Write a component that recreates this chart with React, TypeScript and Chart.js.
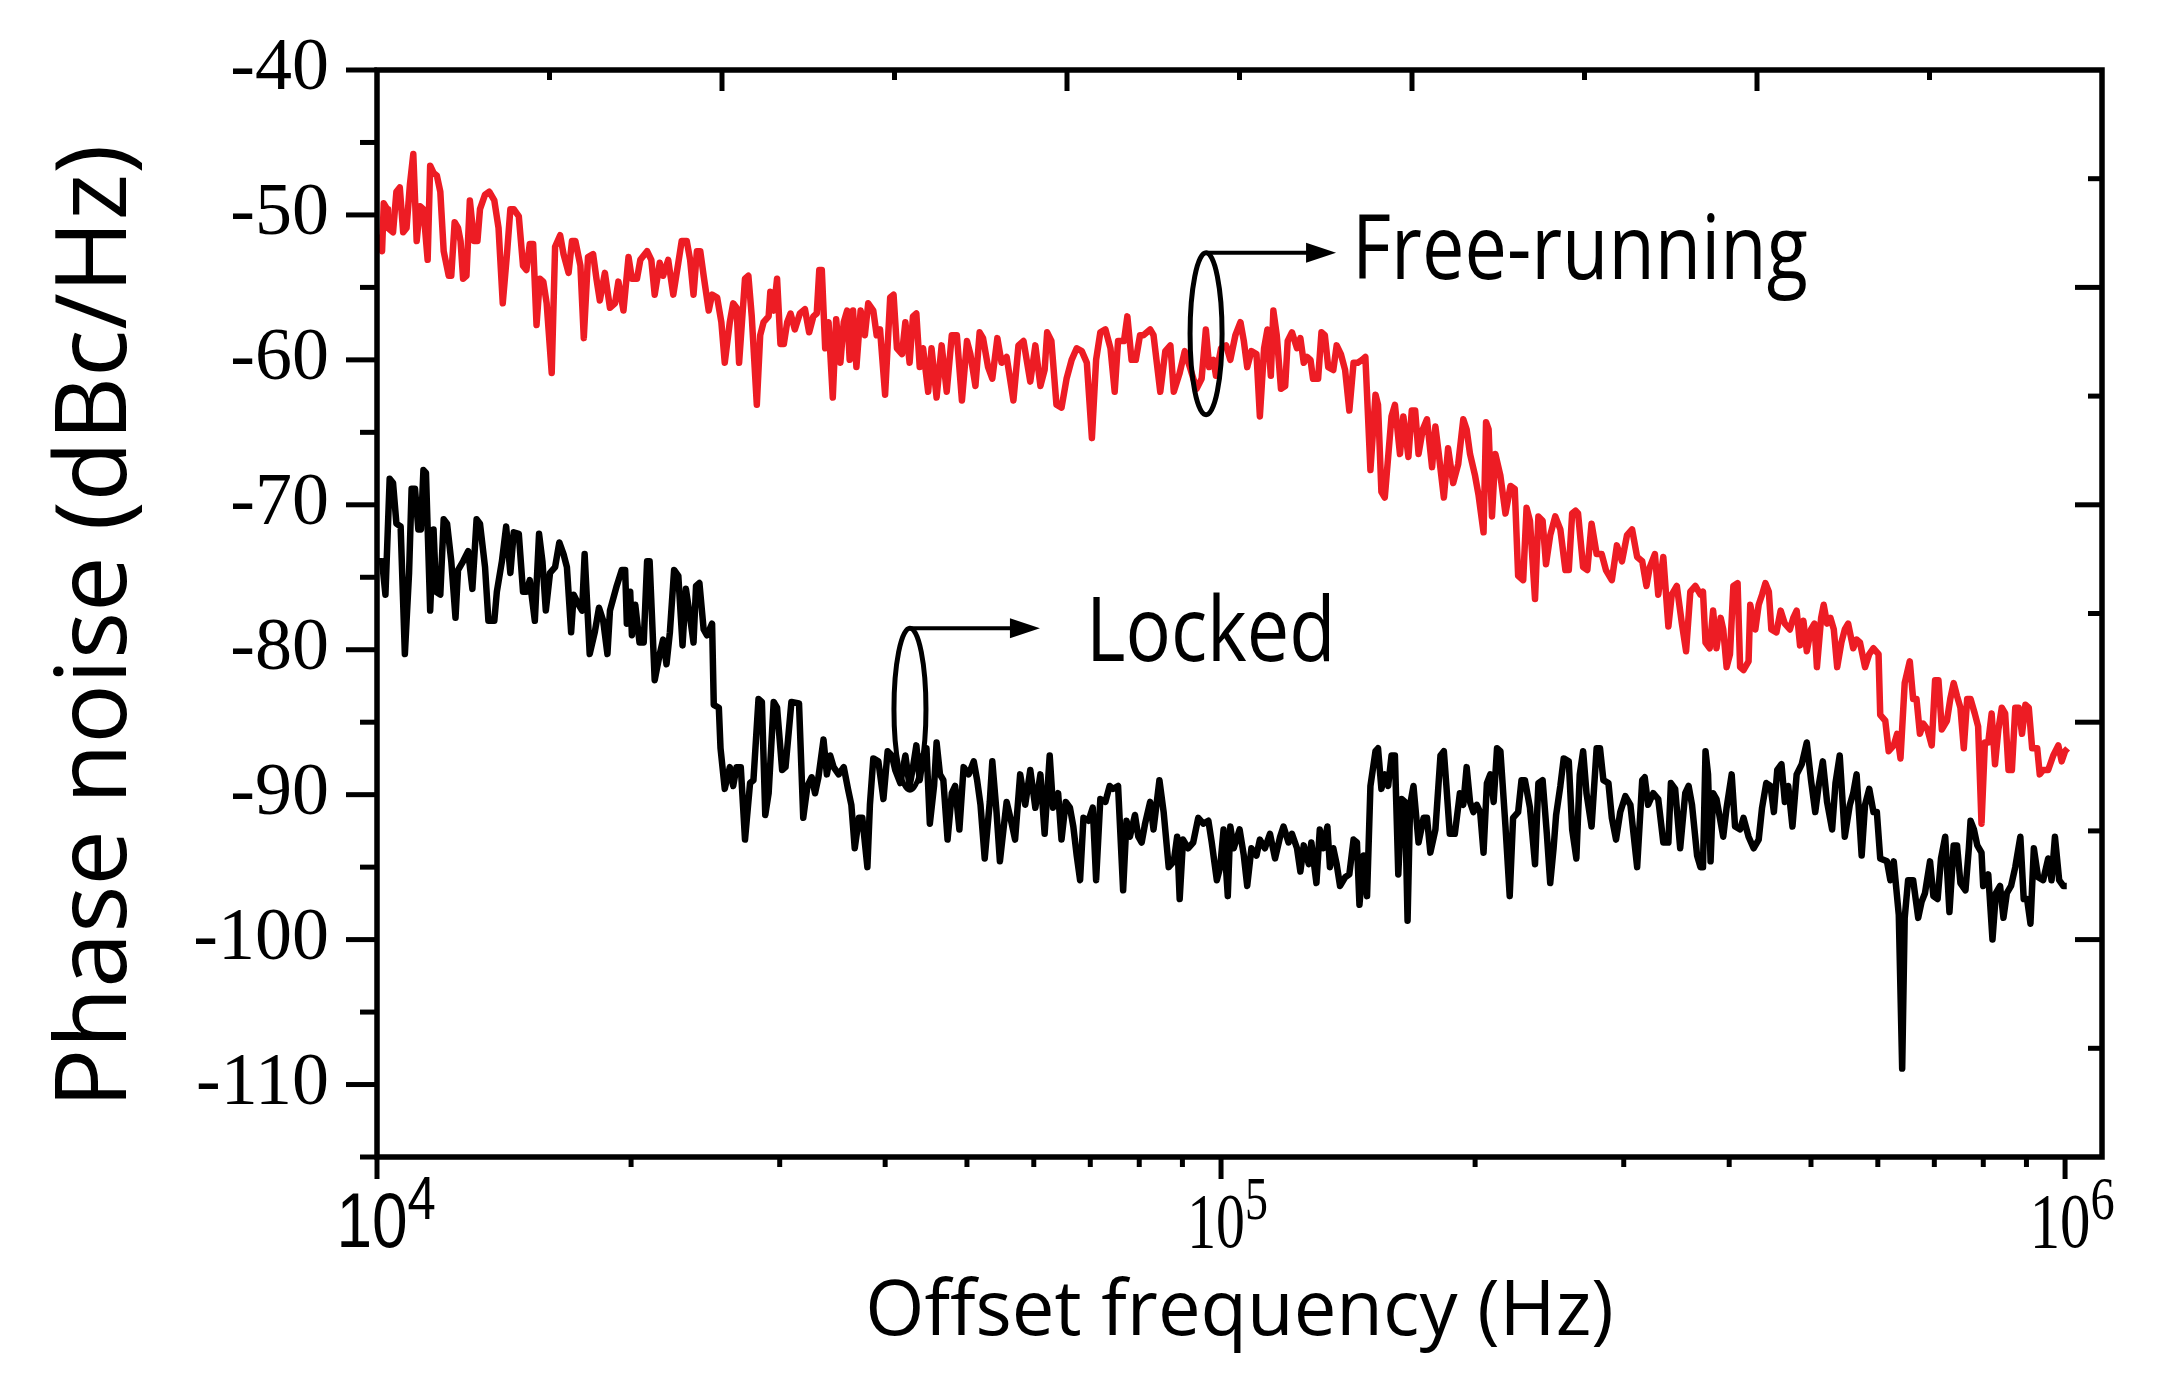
import React, { useEffect, useRef } from 'react';
import { Chart, registerables } from 'chart.js';

Chart.register(...registerables);

// [log10(offset frequency / Hz), phase noise (dBc/Hz)]
const freeRunning: [number, number][] = [
  [4.000, -51.4], [4.006, -52.5], [4.008, -49.2], [4.012, -49.6], [4.013, -50.9], [4.019, -51.2], [4.023, -48.4], [4.027, -48.1],
  [4.031, -51.2], [4.035, -50.9], [4.039, -47.9], [4.043, -45.8], [4.047, -51.8], [4.051, -49.4], [4.055, -49.6], [4.060, -53.1],
  [4.063, -46.6], [4.067, -47.1], [4.071, -47.3], [4.075, -48.4], [4.079, -52.5], [4.085, -54.2], [4.088, -54.2], [4.092, -50.5],
  [4.096, -50.9], [4.099, -51.8], [4.102, -54.4], [4.106, -54.2], [4.110, -49.0], [4.115, -51.8], [4.119, -51.8], [4.122, -49.6],
  [4.128, -48.6], [4.133, -48.4], [4.139, -49.0], [4.144, -50.9], [4.149, -56.1], [4.154, -52.7], [4.158, -49.6], [4.162, -49.6],
  [4.168, -50.1], [4.173, -53.5], [4.177, -53.8], [4.181, -52.0], [4.185, -52.0], [4.189, -57.6], [4.193, -54.4], [4.197, -54.6],
  [4.201, -56.1], [4.207, -60.9], [4.211, -52.2], [4.217, -51.4], [4.221, -52.7], [4.227, -54.0], [4.231, -51.8], [4.235, -51.8],
  [4.241, -53.5], [4.245, -58.5], [4.250, -52.9], [4.256, -52.7], [4.260, -54.4], [4.264, -55.9], [4.270, -54.0], [4.276, -56.4],
  [4.282, -56.1], [4.286, -54.6], [4.292, -56.6], [4.298, -52.9], [4.302, -54.4], [4.308, -54.4], [4.312, -53.1], [4.320, -52.5],
  [4.325, -53.1], [4.329, -55.5], [4.335, -53.3], [4.339, -54.2], [4.345, -53.1], [4.351, -55.5], [4.357, -53.3], [4.361, -51.8],
  [4.367, -51.8], [4.371, -53.1], [4.375, -55.5], [4.379, -52.5], [4.383, -52.5], [4.387, -54.2], [4.393, -56.6], [4.397, -55.5],
  [4.403, -55.7], [4.408, -57.4], [4.412, -60.2], [4.418, -57.4], [4.422, -56.1], [4.426, -56.4], [4.429, -60.2], [4.436, -54.4],
  [4.440, -54.2], [4.444, -57.0], [4.450, -63.1], [4.454, -58.3], [4.458, -57.4], [4.464, -57.0], [4.466, -55.3], [4.470, -56.6],
  [4.474, -54.4], [4.478, -58.9], [4.482, -58.9], [4.486, -57.4], [4.490, -56.8], [4.495, -57.9], [4.501, -56.8], [4.507, -56.5],
  [4.512, -58.1], [4.517, -57.0], [4.521, -56.8], [4.524, -53.8],
  [4.527, -53.8], [4.531, -59.2], [4.535, -57.4], [4.540, -62.6], [4.544, -57.2], [4.549, -60.2], [4.553, -57.4], [4.557, -56.6],
  [4.560, -60.0], [4.564, -56.6], [4.568, -60.5], [4.573, -56.6], [4.578, -58.3], [4.582, -56.1], [4.588, -56.6], [4.592, -58.3],
  [4.596, -57.9], [4.602, -62.4], [4.608, -55.7], [4.612, -55.5], [4.616, -59.2], [4.622, -59.6], [4.626, -57.4], [4.631, -60.2],
  [4.635, -57.0], [4.639, -56.8], [4.643, -60.5], [4.647, -59.2], [4.653, -62.2], [4.657, -59.2], [4.663, -62.6], [4.669, -59.0],
  [4.675, -62.2], [4.681, -58.3], [4.687, -58.3], [4.693, -62.8], [4.699, -58.7], [4.703, -59.6], [4.709, -61.8], [4.714, -58.1],
  [4.718, -58.5], [4.724, -60.5], [4.729, -61.3], [4.735, -58.5], [4.740, -60.2], [4.746, -59.8], [4.754, -62.8], [4.760, -59.0],
  [4.766, -58.7], [4.774, -61.5], [4.780, -59.0], [4.786, -61.8], [4.791, -60.7], [4.794, -58.1], [4.799, -58.7], [4.805, -63.1],
  [4.811, -63.3], [4.817, -61.3], [4.823, -60.0], [4.829, -59.2], [4.835, -59.4], [4.841, -60.2], [4.847, -65.4], [4.852, -60.0],
  [4.857, -58.1], [4.863, -57.9], [4.869, -59.2], [4.874, -62.2], [4.878, -58.7], [4.885, -58.7], [4.889, -57.0], [4.894, -60.0],
  [4.899, -60.0], [4.904, -58.3], [4.908, -58.3], [4.916, -57.9], [4.920, -58.3], [4.928, -62.2], [4.934, -59.4], [4.940, -59.0],
  [4.944, -62.2], [4.951, -60.9], [4.957, -59.4], [4.963, -60.5], [4.971, -62.0], [4.977, -61.3], [4.982, -57.9], [4.986, -60.5],
  [4.991, -60.0], [4.994, -61.1], [5.000, -59.2], [5.006, -59.0], [5.011, -60.0], [5.017, -58.3], [5.023, -57.4], [5.027, -58.7],
  [5.031, -60.5], [5.036, -59.4], [5.042, -59.6], [5.046, -63.9],
  [5.051, -59.2], [5.055, -57.9], [5.059, -61.1], [5.062, -56.6], [5.066, -58.3], [5.071, -62.0], [5.076, -61.8], [5.079, -58.7],
  [5.084, -58.1], [5.090, -59.2], [5.094, -58.5], [5.098, -60.2], [5.102, -59.8], [5.106, -60.0], [5.109, -61.3], [5.115, -61.3],
  [5.119, -58.1], [5.123, -58.3], [5.127, -60.5], [5.133, -60.7], [5.137, -59.0], [5.142, -59.6], [5.147, -60.7], [5.152, -63.5],
  [5.157, -60.2], [5.162, -60.2], [5.167, -60.0], [5.171, -59.8], [5.177, -67.6], [5.183, -62.4], [5.186, -63.1], [5.190, -69.1],
  [5.194, -69.5], [5.198, -66.7], [5.202, -63.9], [5.206, -63.1], [5.212, -66.5], [5.216, -63.9], [5.222, -66.7], [5.226, -63.5],
  [5.230, -63.5], [5.234, -66.5], [5.239, -64.8], [5.244, -64.1], [5.250, -67.4], [5.254, -64.6], [5.258, -66.5], [5.264, -69.5],
  [5.269, -66.1], [5.275, -68.5], [5.281, -67.2], [5.287, -64.1], [5.291, -64.8], [5.295, -66.5], [5.301, -68.0], [5.305, -69.3],
  [5.311, -71.9], [5.314, -64.3], [5.317, -64.8], [5.321, -70.8], [5.325, -66.5], [5.331, -68.0], [5.337, -70.6], [5.343, -68.7],
  [5.348, -68.9], [5.352, -74.9], [5.358, -75.2], [5.362, -70.2], [5.366, -71.1], [5.372, -76.5], [5.376, -70.8], [5.381, -71.1],
  [5.385, -74.1], [5.390, -72.1], [5.396, -70.8], [5.402, -71.7], [5.408, -74.5], [5.412, -74.5], [5.416, -70.6], [5.420, -70.4],
  [5.423, -70.6], [5.429, -74.3], [5.434, -74.5], [5.439, -71.3], [5.445, -73.4], [5.451, -73.4], [5.456, -74.5], [5.463, -75.2],
  [5.469, -72.8], [5.475, -73.9], [5.481, -72.1], [5.487, -71.7], [5.493, -73.6], [5.499, -73.9], [5.504, -75.6], [5.508, -74.3],
  [5.514, -73.4], [5.518, -76.2], [5.524, -73.6], [5.530, -78.4], [5.534, -76.2], [5.540, -75.6], [5.546, -78.2], [5.551, -80.1],
  [5.556, -76.0], [5.562, -75.6], [5.568, -76.2],
  [5.571, -76.0], [5.574, -79.5], [5.579, -79.9], [5.583, -77.3], [5.587, -79.9], [5.592, -77.8], [5.595, -78.6], [5.599, -81.2],
  [5.603, -80.3], [5.607, -75.6], [5.612, -75.4], [5.615, -81.2], [5.619, -81.4], [5.625, -80.8], [5.627, -76.9], [5.633, -78.6],
  [5.637, -76.9], [5.641, -76.2], [5.645, -75.4], [5.649, -76.0], [5.652, -78.6], [5.658, -78.8], [5.663, -77.3], [5.668, -78.2],
  [5.674, -78.6], [5.678, -77.8], [5.682, -77.3], [5.686, -79.7], [5.690, -78.0], [5.694, -80.1], [5.699, -78.6], [5.703, -78.2],
  [5.706, -81.2], [5.711, -77.8], [5.714, -76.9], [5.718, -78.2], [5.722, -77.8], [5.726, -78.6], [5.730, -81.2], [5.735, -79.5],
  [5.739, -78.6], [5.743, -78.2], [5.749, -79.9], [5.753, -79.3], [5.757, -79.5], [5.763, -81.2], [5.768, -80.3], [5.773, -79.9],
  [5.779, -80.3], [5.781, -84.5], [5.787, -84.9], [5.791, -87.0], [5.797, -86.6], [5.801, -85.8], [5.805, -87.5], [5.810, -82.3],
  [5.816, -80.8], [5.820, -83.4], [5.824, -83.4], [5.828, -85.8], [5.832, -85.1], [5.837, -85.5], [5.842, -86.6], [5.846, -82.1],
  [5.850, -82.1], [5.854, -85.5], [5.860, -84.9], [5.864, -83.4], [5.868, -82.3], [5.872, -83.2], [5.876, -84.0], [5.880, -86.8],
  [5.884, -83.4], [5.888, -83.4], [5.893, -84.4], [5.897, -85.3], [5.901, -92.0], [5.905, -86.4], [5.909, -86.4], [5.913, -84.4],
  [5.917, -87.9], [5.921, -85.5], [5.925, -84.0], [5.929, -84.4], [5.933, -88.3], [5.937, -88.3], [5.941, -84.0], [5.945, -84.0],
  [5.949, -85.8], [5.953, -83.8], [5.957, -84.0], [5.961, -86.8], [5.967, -86.8], [5.970, -88.6], [5.974, -88.3], [5.980, -88.3],
  [5.986, -87.3], [5.992, -86.6], [5.996, -87.7], [6.000, -87.0], [6.003, -86.8],
];

const locked: [number, number][] = [
  [4.000, -73.9], [4.006, -73.9], [4.010, -76.2], [4.015, -68.2], [4.019, -68.5], [4.023, -71.3], [4.028, -71.5], [4.033, -80.3],
  [4.038, -74.7], [4.041, -68.9], [4.045, -68.9], [4.049, -71.7], [4.052, -71.7], [4.055, -67.6], [4.058, -67.8], [4.063, -77.3],
  [4.067, -71.7], [4.070, -76.0], [4.075, -76.2], [4.079, -71.0], [4.083, -71.3], [4.088, -73.9], [4.093, -77.8], [4.096, -74.5],
  [4.102, -73.9], [4.108, -73.2], [4.113, -75.8], [4.118, -71.0], [4.122, -71.3], [4.128, -74.3], [4.132, -78.0], [4.139, -78.0],
  [4.142, -76.0], [4.148, -73.9], [4.153, -71.5], [4.158, -74.7], [4.162, -71.9], [4.168, -72.0], [4.173, -76.0], [4.177, -76.0],
  [4.181, -75.2], [4.187, -78.0], [4.192, -72.0], [4.196, -73.9], [4.200, -77.3], [4.205, -74.7], [4.211, -74.3], [4.216, -72.6],
  [4.221, -73.4], [4.225, -74.3], [4.230, -78.8], [4.233, -76.2], [4.239, -76.9], [4.243, -77.3], [4.246, -73.4], [4.252, -80.3],
  [4.258, -78.8], [4.263, -77.1], [4.268, -78.0], [4.273, -80.3], [4.276, -77.3], [4.284, -75.6], [4.290, -74.5], [4.294, -74.5],
  [4.296, -78.2], [4.300, -76.0], [4.302, -79.0], [4.306, -76.9], [4.311, -79.5], [4.316, -79.5], [4.320, -73.9], [4.323, -73.9],
  [4.329, -82.1], [4.335, -80.3], [4.339, -79.3], [4.343, -81.0], [4.347, -78.8], [4.352, -74.5], [4.357, -74.9], [4.362, -79.7],
  [4.366, -75.8], [4.371, -77.8], [4.375, -79.5], [4.378, -75.6], [4.382, -75.4], [4.387, -78.6], [4.391, -79.0], [4.397, -78.2],
  [4.399, -83.8], [4.405, -84.0], [4.407, -86.8], [4.412, -89.6], [4.418, -88.1], [4.422, -89.4], [4.426, -88.1], [4.431, -88.1],
  [4.436, -93.1], [4.442, -89.2], [4.446, -89.0], [4.452, -83.4], [4.456, -83.6], [4.460, -91.4], [4.464, -89.9], [4.470, -83.6],
  [4.474, -84.0], [4.480, -88.3], [4.484, -88.1], [4.487, -86.2], [4.491, -83.6], [4.500, -83.7], [4.505, -91.6], [4.510, -89.4],
  [4.515, -88.8], [4.519, -89.9], [4.523, -88.8],
  [4.529, -86.2], [4.533, -88.6], [4.537, -87.3], [4.541, -88.1], [4.547, -88.6], [4.553, -88.1], [4.558, -89.6], [4.562, -90.7],
  [4.566, -93.7], [4.571, -91.6], [4.575, -91.6], [4.581, -95.0], [4.584, -90.7], [4.588, -87.5], [4.594, -87.7], [4.600, -90.3],
  [4.605, -87.0], [4.610, -87.3], [4.614, -88.3], [4.620, -89.2], [4.626, -87.3], [4.631, -89.4], [4.635, -88.1], [4.639, -86.6],
  [4.643, -89.0], [4.647, -87.3], [4.651, -86.8], [4.655, -92.0], [4.660, -89.4], [4.663, -86.4], [4.667, -88.6], [4.671, -89.0],
  [4.676, -93.1], [4.681, -89.9], [4.685, -89.4], [4.690, -92.4], [4.695, -88.1], [4.701, -88.6], [4.707, -87.7], [4.711, -89.0],
  [4.715, -90.7], [4.720, -94.4], [4.726, -90.5], [4.729, -87.7], [4.734, -91.2], [4.738, -94.6], [4.743, -92.0], [4.746, -90.5],
  [4.752, -92.0], [4.756, -93.1], [4.762, -88.6], [4.768, -90.7], [4.774, -88.3], [4.780, -90.9], [4.786, -88.6], [4.791, -92.7],
  [4.797, -87.3], [4.801, -90.9], [4.807, -89.9], [4.811, -93.1], [4.816, -90.5], [4.821, -90.9], [4.825, -92.2], [4.829, -94.2],
  [4.833, -95.9], [4.837, -91.6], [4.843, -91.8], [4.848, -90.9], [4.852, -95.9], [4.857, -90.3], [4.863, -90.5], [4.868, -89.4],
  [4.872, -89.6], [4.878, -89.4], [4.884, -96.6], [4.888, -91.8], [4.892, -92.9], [4.898, -91.4], [4.902, -92.9], [4.906, -93.3],
  [4.910, -92.0], [4.916, -90.5], [4.920, -92.4], [4.927, -89.0], [4.932, -91.2], [4.938, -95.0], [4.944, -94.6], [4.948, -92.9],
  [4.951, -97.2], [4.955, -93.1], [4.961, -93.7], [4.967, -93.3], [4.973, -91.6], [4.979, -92.0], [4.985, -91.8], [4.989, -93.3],
  [4.995, -95.9], [4.999, -95.0], [5.003, -92.4], [5.008, -97.0], [5.011, -92.2], [5.015, -93.7], [5.022, -92.4], [5.027, -94.2],
  [5.031, -96.3], [5.036, -93.7], [5.042, -94.2],
  [5.046, -93.1], [5.052, -93.7], [5.058, -92.7], [5.064, -94.4], [5.070, -92.9], [5.074, -92.2], [5.080, -93.3], [5.084, -92.7],
  [5.090, -93.7], [5.094, -95.3], [5.098, -93.5], [5.104, -94.8], [5.107, -93.3], [5.113, -96.1], [5.117, -92.4], [5.121, -93.7],
  [5.126, -92.2], [5.129, -95.0], [5.133, -93.7], [5.137, -94.8], [5.141, -96.3], [5.147, -95.7], [5.152, -95.5], [5.157, -93.1],
  [5.161, -93.3], [5.164, -97.6], [5.169, -94.2], [5.173, -97.0], [5.177, -89.4], [5.183, -87.0], [5.186, -86.8], [5.190, -89.6],
  [5.194, -88.6], [5.198, -89.4], [5.202, -87.3], [5.206, -87.3], [5.210, -95.5], [5.214, -90.3], [5.218, -90.5], [5.221, -98.7],
  [5.224, -90.7], [5.228, -89.4], [5.234, -93.3], [5.240, -91.6], [5.244, -91.6], [5.248, -94.0], [5.254, -92.4], [5.260, -87.3],
  [5.264, -87.0], [5.267, -89.4], [5.271, -92.7], [5.277, -92.7], [5.283, -89.9], [5.287, -90.7], [5.291, -88.1], [5.295, -90.5],
  [5.299, -91.2], [5.303, -90.7], [5.307, -91.2], [5.311, -94.0], [5.315, -89.2], [5.319, -88.6], [5.323, -90.5], [5.327, -86.8],
  [5.331, -87.0], [5.337, -92.2], [5.342, -97.0], [5.346, -91.6], [5.352, -91.2], [5.356, -89.0], [5.360, -89.0], [5.366, -90.9],
  [5.372, -94.8], [5.376, -89.2], [5.381, -89.0], [5.386, -92.7], [5.390, -96.1], [5.394, -93.7], [5.397, -91.4], [5.402, -89.4],
  [5.406, -87.5], [5.412, -87.7], [5.416, -92.4], [5.421, -94.4], [5.425, -88.6], [5.429, -87.0], [5.433, -89.9], [5.439, -92.2],
  [5.445, -86.8], [5.449, -86.8], [5.453, -89.0], [5.459, -89.2], [5.463, -91.6], [5.468, -93.1], [5.473, -91.2], [5.479, -90.1],
  [5.485, -90.7], [5.493, -95.0], [5.499, -89.0], [5.502, -88.8], [5.506, -90.7], [5.512, -89.9], [5.518, -90.3], [5.524, -93.3],
  [5.530, -93.3], [5.533, -89.2], [5.538, -89.6], [5.544, -93.7], [5.550, -89.9], [5.554, -89.4], [5.558, -90.7], [5.564, -94.2],
  [5.568, -95.0],
  [5.571, -95.0], [5.574, -87.0], [5.577, -88.6], [5.580, -94.6], [5.583, -89.9], [5.587, -90.3], [5.591, -91.6], [5.595, -92.9],
  [5.599, -90.9], [5.605, -88.6], [5.609, -92.2], [5.615, -92.4], [5.619, -91.6], [5.625, -92.9], [5.631, -93.7], [5.637, -93.1],
  [5.641, -90.9], [5.646, -89.2], [5.651, -89.4], [5.655, -91.2], [5.659, -88.3], [5.664, -87.9], [5.668, -90.5], [5.672, -89.4],
  [5.677, -92.2], [5.682, -88.6], [5.688, -87.9], [5.694, -86.4], [5.699, -89.0], [5.704, -91.2], [5.708, -89.4], [5.713, -87.7],
  [5.718, -90.5], [5.724, -92.4], [5.728, -89.2], [5.733, -87.3], [5.739, -92.9], [5.745, -90.7], [5.749, -89.9], [5.753, -88.6],
  [5.759, -94.2], [5.763, -90.7], [5.768, -89.6], [5.773, -91.2], [5.777, -91.2], [5.781, -94.4], [5.789, -94.6], [5.793, -95.9],
  [5.797, -94.6], [5.803, -98.3], [5.807, -108.9], [5.810, -98.5], [5.814, -95.9], [5.820, -95.9], [5.826, -98.5], [5.830, -97.4],
  [5.834, -96.8], [5.840, -94.6], [5.844, -97.0], [5.849, -97.2], [5.853, -94.4], [5.858, -92.9], [5.863, -98.1], [5.868, -93.5],
  [5.872, -93.5], [5.876, -96.1], [5.882, -96.6], [5.886, -93.7], [5.888, -91.8], [5.892, -92.4], [5.896, -93.5], [5.901, -94.0],
  [5.903, -96.3], [5.909, -95.5], [5.914, -100.0], [5.918, -96.8], [5.923, -96.3], [5.927, -98.5], [5.931, -96.8], [5.936, -96.3],
  [5.941, -95.0], [5.947, -92.9], [5.951, -97.2], [5.955, -97.2], [5.959, -98.9], [5.963, -93.7], [5.968, -95.7], [5.974, -95.9],
  [5.980, -94.4], [5.984, -95.9], [5.988, -92.9], [5.993, -95.9], [5.998, -96.3], [6.002, -96.3],
];

// axis ticks
const X_DECADES = [1e4, 1e5];
const X_MULTIPLIERS = [1, 2, 3, 4, 5, 6, 7, 8, 9];
const X_LAST = 1e6;
const X_LABELS = [
  { value: 1e4, exponent: '4', family: '"Liberation Sans", Arial, sans-serif', squeeze: 0.82 },
  { value: 1e5, exponent: '5', family: '"Liberation Serif", "Times New Roman", serif', squeeze: 0.74 },
  { value: 1e6, exponent: '6', family: '"Liberation Serif", "Times New Roman", serif', squeeze: 0.78 },
];
const FRAME_DIVISIONS = [1, 2, 3, 4, 5, 6, 7, 8, 9];

// ellipse + arrow call-outs: anchor in data units, text offset in px from the ellipse centre
const CALLOUTS = [
  { text: 'Free-running', freq: 96000, db: -58.2, textDx: 146, textDy: -55 },
  { text: 'Locked', freq: 42800, db: -84.1, textDx: 176, textDy: -48 },
];

const X_TICKS = [...X_DECADES.flatMap((d) => X_MULTIPLIERS.map((m) => d * m)), X_LAST];
const MAJOR_X = new Set(X_LABELS.map((l) => l.value));

const framePlugin = {
  id: 'frame',
  afterDatasetsDraw(chart: any) {
    const { ctx, chartArea: area, scales } = chart;
    const { x, y, x2, y2 } = scales;
    const seg = (ax: number, ay: number, bx: number, by: number) => {
      ctx.beginPath();
      ctx.moveTo(ax, ay);
      ctx.lineTo(bx, by);
      ctx.stroke();
    };

    ctx.save();
    ctx.strokeStyle = '#000';
    ctx.fillStyle = '#000';
    ctx.lineCap = 'butt';

    // ticks: left / bottom outward, top / right inward
    ctx.lineWidth = 5;
    y.ticks.forEach((t: any) => {
      const py = y.getPixelForValue(t.value);
      seg(area.left, py, area.left - (t.value % 10 === 0 ? 31 : 17), py);
    });
    x.ticks.forEach((t: any) => {
      const px = x.getPixelForValue(t.value);
      seg(px, area.bottom, px, area.bottom + (MAJOR_X.has(t.value) ? 22 : 10));
    });
    FRAME_DIVISIONS.forEach((v) => {
      const px = x2.getPixelForValue(v);
      seg(px, area.top, px, area.top + (v % 2 === 0 ? 21 : 10));
      const py = y2.getPixelForValue(v);
      seg(area.right, py, area.right - (v % 2 === 0 ? 27 : 14), py);
    });

    ctx.lineWidth = 5.5;
    ctx.strokeRect(area.left, area.top, area.right - area.left, area.bottom - area.top);

    // 10^n labels
    X_LABELS.forEach((l) => {
      const px = x.getPixelForValue(l.value) - 5;
      ctx.save();
      ctx.translate(px, area.bottom + 90);
      ctx.scale(l.squeeze, 1);
      ctx.font = `78px ${l.family}`;
      ctx.textAlign = 'center';
      ctx.textBaseline = 'alphabetic';
      const w = ctx.measureText('10').width;
      ctx.fillText('10', 0, 0);
      ctx.font = `62px ${l.family}`;
      ctx.textAlign = 'left';
      ctx.fillText(l.exponent, w / 2, -28);
      ctx.restore();
    });

    // call-outs
    CALLOUTS.forEach((c) => {
      const cx = x.getPixelForValue(c.freq);
      const cy = y.getPixelForValue(c.db);
      const top = cy - 81;
      ctx.lineWidth = 5;
      ctx.beginPath();
      ctx.ellipse(cx, cy, 16, 81, 0, 0, Math.PI * 2);
      ctx.stroke();
      ctx.lineWidth = 4;
      seg(cx, top, cx + 104, top);
      ctx.beginPath();
      ctx.moveTo(cx + 130, top);
      ctx.lineTo(cx + 100, top - 10);
      ctx.lineTo(cx + 100, top + 10);
      ctx.closePath();
      ctx.fill();
      ctx.save();
      ctx.translate(cx + c.textDx, cy + c.textDy);
      ctx.scale(0.84, 1);
      ctx.font = '90px "Open Sans", sans-serif';
      ctx.textAlign = 'left';
      ctx.textBaseline = 'alphabetic';
      ctx.fillText(c.text, 0, 0);
      ctx.restore();
    });

    ctx.restore();
  },
};

const PhaseNoiseChart: React.FC = () => {
  const canvasRef = useRef<HTMLCanvasElement>(null);

  useEffect(() => {
    if (!canvasRef.current) return;

    const chart = new Chart(canvasRef.current, {
      type: 'line',
      data: {
        datasets: [
          {
            label: 'Free-running',
            data: freeRunning.map(([lf, db]) => ({ x: 10 ** lf, y: db })),
            borderColor: '#ED1C24',
            borderWidth: 6.5,
            pointRadius: 0,
            tension: 0,
            borderJoinStyle: 'round',
          },
          {
            label: 'Locked',
            data: locked.map(([lf, db]) => ({ x: 10 ** lf, y: db })),
            borderColor: '#000',
            borderWidth: 6.5,
            pointRadius: 0,
            tension: 0,
            borderJoinStyle: 'round',
          },
        ],
      },
      options: {
        animation: false,
        responsive: false,
        devicePixelRatio: 1,
        layout: { padding: { top: 70, right: 66, left: 0, bottom: 0 } },
        plugins: {
          legend: { display: false },
          tooltip: { enabled: false },
        },
        scales: {
          x: {
            type: 'logarithmic',
            min: 1e4,
            max: 1.106e6,
            afterBuildTicks: (scale: any) => {
              scale.ticks = X_TICKS.map((value) => ({ value }));
            },
            afterFit: (scale: any) => {
              scale.height = 233;
              scale.paddingLeft = 0;
              scale.paddingRight = 0;
            },
            grid: { display: false, drawTicks: false },
            border: { display: false },
            ticks: { display: false },
            title: {
              display: true,
              text: 'Offset frequency (Hz)',
              color: '#000',
              font: { family: '"Open Sans", sans-serif', size: 76 },
              padding: { top: 0, bottom: 31 },
            },
          },
          y: {
            type: 'linear',
            min: -115,
            max: -40,
            afterFit: (scale: any) => {
              scale.width = 377;
              scale.paddingTop = 0;
              scale.paddingBottom = 0;
            },
            grid: { display: false, drawTicks: false },
            border: { display: false },
            ticks: {
              stepSize: 5,
              autoSkip: false,
              padding: 48,
              color: '#000',
              font: { family: '"Liberation Serif", "Times New Roman", serif', size: 74 },
              callback: (v: any) => (Number(v) % 10 === 0 ? String(v) : ''),
            },
            title: {
              display: true,
              text: 'Phase noise (dBc/Hz) ',
              color: '#000',
              font: { family: '"Open Sans", sans-serif', size: 99 },
              padding: { top: 38, bottom: 0 },
            },
          },
          x2: { type: 'linear', axis: 'x', position: 'top', min: 0, max: 10, display: false },
          y2: { type: 'linear', axis: 'y', position: 'right', min: 0, max: 10, display: false },
        },
      } as any,
      plugins: [framePlugin],
    });

    return () => chart.destroy();
  }, []);

  return <canvas ref={canvasRef} width={2168} height={1390} style={{ display: 'block' }} />;
};

export default function App() {
  return (
    <div style={{ position: 'absolute', left: 0, top: 0, width: 2168, height: 1390, background: '#fff' }}>
      <PhaseNoiseChart />
    </div>
  );
}
